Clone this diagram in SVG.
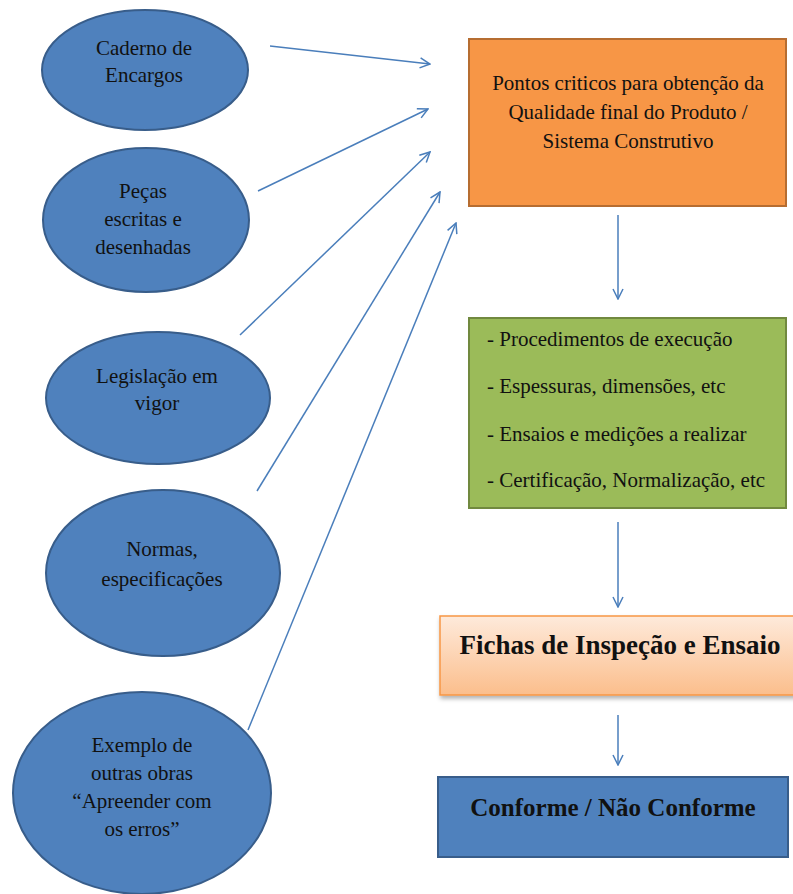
<svg xmlns="http://www.w3.org/2000/svg" width="793" height="894" viewBox="0 0 793 894">
<style>
text{font-family:"Liberation Serif","Times New Roman",Times,"Tinos","DejaVu Serif",serif}
.ell{fill:#4F81BD;stroke:#385D8A;stroke-width:2}
.t{font-size:21px;font-weight:normal;fill:#111;text-anchor:middle}
.tl{font-size:21px;font-weight:normal;fill:#111}
.tb{font-weight:bold;fill:#111;text-anchor:middle}
.c{fill:none;stroke:#4A7EBB;stroke-width:1.5;marker-end:url(#ah)}
</style>
<defs>
<marker id="ah" viewBox="0 0 12 12" refX="11" refY="6" markerWidth="12" markerHeight="12" markerUnits="userSpaceOnUse" orient="auto">
<path d="M1,1 L11,6 L1,11" fill="none" stroke="#4A7EBB" stroke-width="1.5"/>
</marker>
<linearGradient id="peach" x1="0" y1="0" x2="0" y2="1">
<stop offset="0" stop-color="#FEEADB"/>
<stop offset="1" stop-color="#FBBE8C"/>
</linearGradient>
<filter id="sh" x="-5%" y="-10%" width="115%" height="130%">
<feDropShadow dx="1" dy="3" stdDeviation="2" flood-color="#000" flood-opacity="0.3"/>
</filter>
</defs>
<rect width="793" height="894" fill="#fff"/>
<g id="n-caderno">
<ellipse class="ell" cx="145" cy="70" rx="103" ry="60"/>
<text class="t" x="144" y="55">Caderno de</text>
<text class="t" x="144" y="82">Encargos</text>
</g>
<g id="n-pecas">
<ellipse class="ell" cx="146" cy="220" rx="103" ry="72"/>
<text class="t" x="143" y="198">Peças</text>
<text class="t" x="143" y="226">escritas e</text>
<text class="t" x="143" y="254">desenhadas</text>
</g>
<g id="n-legislacao">
<ellipse class="ell" cx="158" cy="398" rx="112" ry="66"/>
<text class="t" x="157" y="383">Legislação em</text>
<text class="t" x="157" y="410">vigor</text>
</g>
<g id="n-normas">
<ellipse class="ell" cx="163" cy="573" rx="117" ry="83"/>
<text class="t" x="162" y="556">Normas,</text>
<text class="t" x="162" y="586">especificações</text>
</g>
<g id="n-exemplo">
<ellipse class="ell" cx="142" cy="793" rx="129" ry="101"/>
<text class="t" x="142" y="752">Exemplo de</text>
<text class="t" x="142" y="780">outras obras</text>
<text class="t" x="142" y="808">“Apreender com</text>
<text class="t" x="142" y="836">os erros”</text>
</g>
<g id="n-pontos">
<rect x="469" y="39" width="317" height="167" fill="#F79646" stroke="#B66D31" stroke-width="2"/>
<text class="t" x="628" y="90">Pontos criticos para obtenção da</text>
<text class="t" x="628" y="119">Qualidade final do Produto /</text>
<text class="t" x="628" y="148">Sistema Construtivo</text>
</g>
<g id="n-procedimentos">
<rect x="469" y="318" width="317" height="190" fill="#9BBB59" stroke="#71893F" stroke-width="2"/>
<text class="tl" x="487" y="346">- Procedimentos de execução</text>
<text class="tl" x="487" y="393">- Espessuras, dimensões, etc</text>
<text class="tl" x="487" y="441">- Ensaios e medições a realizar</text>
<text class="tl" x="487" y="487">- Certificação, Normalização, etc</text>
</g>
<g id="n-fichas">
<rect x="440" y="616" width="365" height="79" fill="url(#peach)" stroke="#F79646" stroke-width="1.5" filter="url(#sh)"/>
<text class="tb" x="620" y="654" font-size="27">Fichas de Inspeção e Ensaio</text>
</g>
<g id="n-conforme">
<rect x="438" y="777" width="350" height="80" fill="#4F81BD" stroke="#385D8A" stroke-width="2"/>
<text class="tb" x="613" y="816" font-size="25">Conforme / Não Conforme</text>
</g>
<g id="connectors">
<line class="c" x1="270" y1="46" x2="430" y2="64"/>
<line class="c" x1="258" y1="191" x2="428" y2="109"/>
<line class="c" x1="240" y1="335" x2="430" y2="152"/>
<line class="c" x1="257" y1="491" x2="440" y2="192"/>
<line class="c" x1="248" y1="730" x2="456" y2="223"/>
<line class="c" x1="618" y1="215" x2="618" y2="299"/>
<line class="c" x1="618" y1="522" x2="618" y2="607"/>
<line class="c" x1="618" y1="715" x2="618" y2="765"/>
</g>
</svg>
